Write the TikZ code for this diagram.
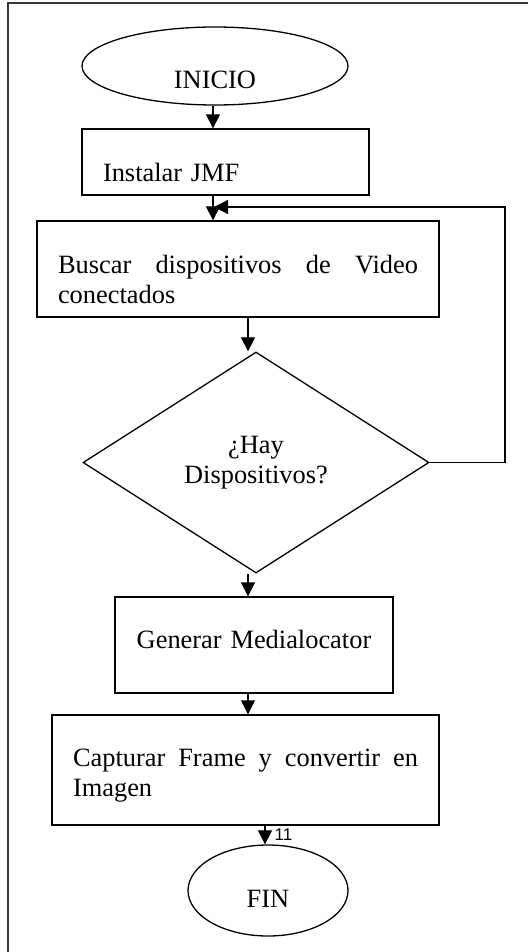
\documentclass[tikz,border=0pt]{standalone}
\usepackage{fontspec}
\setmainfont{Liberation Serif}
\newfontfamily\sansnum{Liberation Sans}
\usepackage{tikz}
\usetikzlibrary{shapes.geometric,arrows.meta}
\tolerance=10000
\hyphenpenalty=10000

\begin{document}
\begin{tikzpicture} [x = 1pt, y = -1pt, line width = 1.3pt,
  texto/.style = {font=\fontsize{26.4}{30}\selectfont},
  terminal/.style = {texto, draw, ellipse, inner sep=0pt},
  proceso/.style = {texto, draw, rectangle, inner xsep=21pt, inner ysep=0pt},
  decision/.style = {texto, draw, diamond, inner sep=0pt, align=center},
  flecha/.style = {-{Triangle[length=14pt, width=14pt]}, line width=1.2pt},
  etiqueta/.style = {font=\sansnum\fontsize{17}{17}\selectfont, right=9pt, inner sep=0pt}]
\useasboundingbox (0,0) rectangle (528,952);
\draw[line width = 2pt, color=black!78] (528,3) -- (8,3) -- (8,952);

\node[terminal, minimum width=266pt, minimum height=78pt, text height=46pt, text depth=1pt] (inicio) at (215,66) {INICIO};
\node[proceso, minimum width=287pt, minimum height=66pt, text width=245pt, align=left, text height=41pt, text depth=2pt] (instalar) at (225.5,162) {Instalar JMF};
\node[proceso, minimum width=402pt, minimum height=96pt, text width=360pt, align=justify, text height=20pt, text depth=11pt] (buscar) at (238,269) {Buscar dispositivos de Video\linebreak conectados};
\node[decision, minimum width=346pt, minimum height=221pt, text height=43pt, text depth=2pt] (pregunta) at (256,462.5) {¿Hay\\Dispositivos?};
\node[proceso, minimum width=278pt, minimum height=96pt, text width=236pt, align=center, text height=18pt, text depth=11pt] (generar) at (254,645) {Generar Medialocator};
\node[proceso, minimum width=387pt, minimum height=110pt, text width=345pt, align=justify, text height=15pt, text depth=22pt] (capturar) at (245.5,770) {Capturar Frame y convertir en\linebreak Imagen};
\node[terminal, minimum width=160pt, minimum height=91pt, text height=35pt, text depth=2pt] (fin) at (268,890.5) {FIN};

\coordinate (colA) at (213,0);
\coordinate (colB) at (248,0);
\coordinate (colC) at (265,0);
\coordinate (esquina) at (505,207);
\coordinate (retorno) at (214,207);

\draw[flecha] (inicio.south -| colA) -- (instalar.north -| colA);
\draw[flecha] (instalar.south -| colA) -- (buscar.north -| colA);
\draw[flecha] (buscar.south -| colB) -- (pregunta.north -| colB);
\draw[flecha] (pregunta.south -| colB) -- (generar.north -| colB);
\draw[flecha] (generar.south -| colB) -- (capturar.north -| colB);
\draw[flecha] (capturar.south -| colC) -- node[etiqueta] {11} (fin.north -| colC);
\draw[flecha] (pregunta.east) -| (esquina) -- (retorno);
\end{tikzpicture}
\end{document}
